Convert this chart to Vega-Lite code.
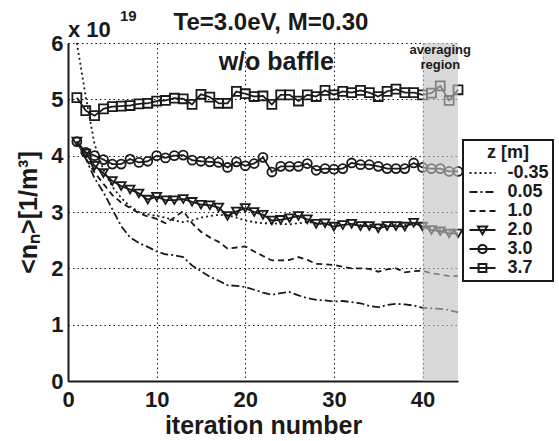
{
  "$schema": "https://vega.github.io/schema/vega-lite/v6.json",
  "width": 390,
  "height": 338,
  "autosize": "none",
  "padding": {"left": 68, "top": 43, "right": 101, "bottom": 60},
  "background": "white",
  "config": {
    "font": "Liberation Sans",
    "view": {"stroke": null},
    "axis": {
      "labelFont": "Liberation Sans", "labelFontWeight": "bold", "labelFontSize": 22, "labelColor": "#1a1a1a", "labelFlush": false,
      "titleFont": "Liberation Sans", "titleFontWeight": "bold", "titleFontSize": 25, "titleColor": "#1a1a1a",
      "domainColor": "#1a1a1a", "domainWidth": 2, "tickSize": 0,
      "grid": true, "gridColor": "#1a1a1a", "gridDash": [1.5, 3], "gridWidth": 1, "gridOpacity": 1
    }
  },
  "data": {"values": [
    {"it":1,"z":"-0.35","n":6.0},{"it":2,"z":"-0.35","n":5.05},{"it":3,"z":"-0.35","n":4.2},{"it":4,"z":"-0.35","n":3.75},{"it":5,"z":"-0.35","n":3.45},{"it":6,"z":"-0.35","n":3.25},{"it":7,"z":"-0.35","n":3.1},{"it":8,"z":"-0.35","n":3.0},{"it":9,"z":"-0.35","n":2.96},{"it":10,"z":"-0.35","n":2.93},{"it":11,"z":"-0.35","n":2.9},{"it":12,"z":"-0.35","n":2.85},{"it":13,"z":"-0.35","n":2.82},{"it":14,"z":"-0.35","n":2.85},{"it":15,"z":"-0.35","n":2.9},{"it":16,"z":"-0.35","n":2.93},{"it":17,"z":"-0.35","n":2.95},{"it":18,"z":"-0.35","n":2.94},{"it":19,"z":"-0.35","n":2.9},{"it":20,"z":"-0.35","n":2.85},{"it":21,"z":"-0.35","n":2.82},{"it":22,"z":"-0.35","n":2.8},{"it":23,"z":"-0.35","n":2.8},{"it":24,"z":"-0.35","n":2.79},{"it":25,"z":"-0.35","n":2.78},{"it":26,"z":"-0.35","n":2.8},{"it":27,"z":"-0.35","n":2.82},{"it":28,"z":"-0.35","n":2.8},{"it":29,"z":"-0.35","n":2.78},{"it":30,"z":"-0.35","n":2.76},{"it":31,"z":"-0.35","n":2.77},{"it":32,"z":"-0.35","n":2.78},{"it":33,"z":"-0.35","n":2.77},{"it":34,"z":"-0.35","n":2.78},{"it":35,"z":"-0.35","n":2.76},{"it":36,"z":"-0.35","n":2.77},{"it":37,"z":"-0.35","n":2.78},{"it":38,"z":"-0.35","n":2.77},{"it":39,"z":"-0.35","n":2.78},{"it":40,"z":"-0.35","n":2.76},{"it":41,"z":"-0.35","n":2.72},{"it":42,"z":"-0.35","n":2.7},{"it":43,"z":"-0.35","n":2.67},{"it":44,"z":"-0.35","n":2.65},
    {"it":1,"z":"0.05","n":4.25},{"it":2,"z":"0.05","n":3.95},{"it":3,"z":"0.05","n":3.6},{"it":4,"z":"0.05","n":3.35},{"it":5,"z":"0.05","n":3.05},{"it":6,"z":"0.05","n":2.75},{"it":7,"z":"0.05","n":2.55},{"it":8,"z":"0.05","n":2.45},{"it":9,"z":"0.05","n":2.38},{"it":10,"z":"0.05","n":2.3},{"it":11,"z":"0.05","n":2.25},{"it":12,"z":"0.05","n":2.23},{"it":13,"z":"0.05","n":2.2},{"it":14,"z":"0.05","n":2.05},{"it":15,"z":"0.05","n":1.95},{"it":16,"z":"0.05","n":1.85},{"it":17,"z":"0.05","n":1.78},{"it":18,"z":"0.05","n":1.7},{"it":19,"z":"0.05","n":1.69},{"it":20,"z":"0.05","n":1.67},{"it":21,"z":"0.05","n":1.62},{"it":22,"z":"0.05","n":1.57},{"it":23,"z":"0.05","n":1.53},{"it":24,"z":"0.05","n":1.56},{"it":25,"z":"0.05","n":1.58},{"it":26,"z":"0.05","n":1.52},{"it":27,"z":"0.05","n":1.47},{"it":28,"z":"0.05","n":1.44},{"it":29,"z":"0.05","n":1.43},{"it":30,"z":"0.05","n":1.41},{"it":31,"z":"0.05","n":1.42},{"it":32,"z":"0.05","n":1.4},{"it":33,"z":"0.05","n":1.38},{"it":34,"z":"0.05","n":1.33},{"it":35,"z":"0.05","n":1.31},{"it":36,"z":"0.05","n":1.35},{"it":37,"z":"0.05","n":1.37},{"it":38,"z":"0.05","n":1.36},{"it":39,"z":"0.05","n":1.34},{"it":40,"z":"0.05","n":1.3},{"it":41,"z":"0.05","n":1.29},{"it":42,"z":"0.05","n":1.28},{"it":43,"z":"0.05","n":1.26},{"it":44,"z":"0.05","n":1.22},
    {"it":1,"z":"1.0","n":4.25},{"it":2,"z":"1.0","n":3.95},{"it":3,"z":"1.0","n":3.7},{"it":4,"z":"1.0","n":3.5},{"it":5,"z":"1.0","n":3.3},{"it":6,"z":"1.0","n":3.17},{"it":7,"z":"1.0","n":3.07},{"it":8,"z":"1.0","n":2.98},{"it":9,"z":"1.0","n":2.92},{"it":10,"z":"1.0","n":2.88},{"it":11,"z":"1.0","n":2.8},{"it":12,"z":"1.0","n":2.9},{"it":13,"z":"1.0","n":3.02},{"it":14,"z":"1.0","n":2.8},{"it":15,"z":"1.0","n":2.65},{"it":16,"z":"1.0","n":2.55},{"it":17,"z":"1.0","n":2.47},{"it":18,"z":"1.0","n":2.35},{"it":19,"z":"1.0","n":2.37},{"it":20,"z":"1.0","n":2.39},{"it":21,"z":"1.0","n":2.3},{"it":22,"z":"1.0","n":2.22},{"it":23,"z":"1.0","n":2.14},{"it":24,"z":"1.0","n":2.14},{"it":25,"z":"1.0","n":2.15},{"it":26,"z":"1.0","n":2.2},{"it":27,"z":"1.0","n":2.15},{"it":28,"z":"1.0","n":2.08},{"it":29,"z":"1.0","n":2.07},{"it":30,"z":"1.0","n":2.06},{"it":31,"z":"1.0","n":2.03},{"it":32,"z":"1.0","n":2.0},{"it":33,"z":"1.0","n":2.0},{"it":34,"z":"1.0","n":1.99},{"it":35,"z":"1.0","n":1.94},{"it":36,"z":"1.0","n":1.98},{"it":37,"z":"1.0","n":2.0},{"it":38,"z":"1.0","n":1.93},{"it":39,"z":"1.0","n":1.95},{"it":40,"z":"1.0","n":1.96},{"it":41,"z":"1.0","n":1.91},{"it":42,"z":"1.0","n":1.89},{"it":43,"z":"1.0","n":1.86},{"it":44,"z":"1.0","n":1.86},
    {"it":1,"z":"2.0","n":4.25},{"it":2,"z":"2.0","n":4.04},{"it":3,"z":"2.0","n":3.82},{"it":4,"z":"2.0","n":3.69},{"it":5,"z":"2.0","n":3.55},{"it":6,"z":"2.0","n":3.46},{"it":7,"z":"2.0","n":3.4},{"it":8,"z":"2.0","n":3.33},{"it":9,"z":"2.0","n":3.22},{"it":10,"z":"2.0","n":3.27},{"it":11,"z":"2.0","n":3.21},{"it":12,"z":"2.0","n":3.21},{"it":13,"z":"2.0","n":3.23},{"it":14,"z":"2.0","n":3.18},{"it":15,"z":"2.0","n":3.13},{"it":16,"z":"2.0","n":3.12},{"it":17,"z":"2.0","n":3.08},{"it":18,"z":"2.0","n":2.93},{"it":19,"z":"2.0","n":3.01},{"it":20,"z":"2.0","n":3.07},{"it":21,"z":"2.0","n":3.0},{"it":22,"z":"2.0","n":2.95},{"it":23,"z":"2.0","n":2.85},{"it":24,"z":"2.0","n":2.86},{"it":25,"z":"2.0","n":2.89},{"it":26,"z":"2.0","n":2.93},{"it":27,"z":"2.0","n":2.87},{"it":28,"z":"2.0","n":2.79},{"it":29,"z":"2.0","n":2.8},{"it":30,"z":"2.0","n":2.74},{"it":31,"z":"2.0","n":2.77},{"it":32,"z":"2.0","n":2.79},{"it":33,"z":"2.0","n":2.75},{"it":34,"z":"2.0","n":2.75},{"it":35,"z":"2.0","n":2.71},{"it":36,"z":"2.0","n":2.75},{"it":37,"z":"2.0","n":2.75},{"it":38,"z":"2.0","n":2.74},{"it":39,"z":"2.0","n":2.81},{"it":40,"z":"2.0","n":2.74},{"it":41,"z":"2.0","n":2.68},{"it":42,"z":"2.0","n":2.66},{"it":43,"z":"2.0","n":2.62},{"it":44,"z":"2.0","n":2.62},
    {"it":1,"z":"3.0","n":4.25},{"it":2,"z":"3.0","n":4.06},{"it":3,"z":"3.0","n":4.0},{"it":4,"z":"3.0","n":3.93},{"it":5,"z":"3.0","n":3.85},{"it":6,"z":"3.0","n":3.85},{"it":7,"z":"3.0","n":3.94},{"it":8,"z":"3.0","n":3.88},{"it":9,"z":"3.0","n":3.9},{"it":10,"z":"3.0","n":4.0},{"it":11,"z":"3.0","n":3.96},{"it":12,"z":"3.0","n":4.0},{"it":13,"z":"3.0","n":4.01},{"it":14,"z":"3.0","n":3.92},{"it":15,"z":"3.0","n":3.9},{"it":16,"z":"3.0","n":3.89},{"it":17,"z":"3.0","n":3.88},{"it":18,"z":"3.0","n":3.79},{"it":19,"z":"3.0","n":3.89},{"it":20,"z":"3.0","n":3.82},{"it":21,"z":"3.0","n":3.86},{"it":22,"z":"3.0","n":3.97},{"it":23,"z":"3.0","n":3.71},{"it":24,"z":"3.0","n":3.81},{"it":25,"z":"3.0","n":3.81},{"it":26,"z":"3.0","n":3.81},{"it":27,"z":"3.0","n":3.86},{"it":28,"z":"3.0","n":3.74},{"it":29,"z":"3.0","n":3.77},{"it":30,"z":"3.0","n":3.76},{"it":31,"z":"3.0","n":3.77},{"it":32,"z":"3.0","n":3.87},{"it":33,"z":"3.0","n":3.84},{"it":34,"z":"3.0","n":3.84},{"it":35,"z":"3.0","n":3.81},{"it":36,"z":"3.0","n":3.77},{"it":37,"z":"3.0","n":3.77},{"it":38,"z":"3.0","n":3.77},{"it":39,"z":"3.0","n":3.87},{"it":40,"z":"3.0","n":3.79},{"it":41,"z":"3.0","n":3.77},{"it":42,"z":"3.0","n":3.77},{"it":43,"z":"3.0","n":3.72},{"it":44,"z":"3.0","n":3.72},
    {"it":1,"z":"3.7","n":5.03},{"it":2,"z":"3.7","n":4.8},{"it":3,"z":"3.7","n":4.71},{"it":4,"z":"3.7","n":4.83},{"it":5,"z":"3.7","n":4.87},{"it":6,"z":"3.7","n":4.88},{"it":7,"z":"3.7","n":4.89},{"it":8,"z":"3.7","n":4.92},{"it":9,"z":"3.7","n":4.93},{"it":10,"z":"3.7","n":4.97},{"it":11,"z":"3.7","n":4.98},{"it":12,"z":"3.7","n":5.02},{"it":13,"z":"3.7","n":5.01},{"it":14,"z":"3.7","n":4.91},{"it":15,"z":"3.7","n":5.09},{"it":16,"z":"3.7","n":5.04},{"it":17,"z":"3.7","n":4.93},{"it":18,"z":"3.7","n":4.93},{"it":19,"z":"3.7","n":5.14},{"it":20,"z":"3.7","n":5.1},{"it":21,"z":"3.7","n":5.05},{"it":22,"z":"3.7","n":5.06},{"it":23,"z":"3.7","n":4.91},{"it":24,"z":"3.7","n":5.08},{"it":25,"z":"3.7","n":5.08},{"it":26,"z":"3.7","n":4.97},{"it":27,"z":"3.7","n":5.08},{"it":28,"z":"3.7","n":5.05},{"it":29,"z":"3.7","n":5.16},{"it":30,"z":"3.7","n":5.08},{"it":31,"z":"3.7","n":5.14},{"it":32,"z":"3.7","n":5.12},{"it":33,"z":"3.7","n":5.16},{"it":34,"z":"3.7","n":5.12},{"it":35,"z":"3.7","n":5.05},{"it":36,"z":"3.7","n":5.14},{"it":37,"z":"3.7","n":5.18},{"it":38,"z":"3.7","n":5.12},{"it":39,"z":"3.7","n":5.12},{"it":40,"z":"3.7","n":5.08},{"it":41,"z":"3.7","n":5.11},{"it":42,"z":"3.7","n":5.24},{"it":43,"z":"3.7","n":4.98},{"it":44,"z":"3.7","n":5.17}
  ]},
  "layer": [
    {
      "mark": {"type": "line", "strokeWidth": 1.8, "color": "#1a1a1a"},
      "encoding": {
        "x": {"field": "it", "type": "quantitative", "scale": {"domain": [0, 44], "nice": false}, "axis": {"values": [0, 10, 20, 30, 40], "format": "d", "title": "iteration number", "labelPadding": 8, "titlePadding": 3}},
        "y": {"field": "n", "type": "quantitative", "scale": {"domain": [0, 6], "nice": false}, "axis": {"values": [0, 1, 2, 3, 4, 5, 6], "format": "d", "title": "<nₙ>[1/m³]", "labelPadding": 5, "titlePadding": 9}},
        "strokeDash": {
          "field": "z", "type": "nominal",
          "scale": {"domain": ["-0.35", "0.05", "1.0", "2.0", "3.0", "3.7"], "range": [[2, 3], [8, 3, 2, 3], [6, 4], [1, 0], [1, 0], [1, 0]]},
          "legend": {
            "title": "z [m]", "orient": "none", "legendX": 395, "legendY": 97,
            "titleFontSize": 18, "titleFontWeight": "bold", "titleFont": "Liberation Sans", "titleColor": "#1a1a1a", "titleAlign": "center", "titleAnchor": "middle", "titleBaseline": "top", "titlePadding": 2,
            "labelFontSize": 18, "labelFontWeight": "bold", "labelFont": "Liberation Sans", "labelColor": "#1a1a1a",
            "symbolSize": 169, "symbolStrokeWidth": 2, "symbolStrokeColor": "#1a1a1a", "symbolOffset": 6.5, "labelOffset": 16,
            "rowPadding": 1, "padding": 4, "strokeColor": "#1a1a1a",
            "encode": {
              "symbols": {"update": {
                "shape": {"signal": "datum.value === '2.0' ? 'M-2,0H2M-0.7,-0.55H0.7L0,0.65Z' : datum.value === '3.0' ? 'M-2,0H2M0.65,0L0.563,0.325L0.325,0.563L0,0.65L-0.325,0.563L-0.563,0.325L-0.65,0L-0.563,-0.325L-0.325,-0.563L0,-0.65L0.325,-0.563L0.563,-0.325Z' : datum.value === '3.7' ? 'M-2,0H2M-0.6,-0.6H0.6V0.6H-0.6Z' : 'M-2,0H2'"},
                "fill": {"value": "transparent"}, "stroke": {"value": "#1a1a1a"}, "strokeWidth": {"value": 2}
              }},
              "legend": {"update": {"strokeWidth": {"value": 2}}}
            }
          }
        }
      }
    },
    {
      "transform": [{"filter": {"field": "z", "oneOf": ["2.0", "3.0", "3.7"]}}],
      "mark": {"type": "point", "filled": false, "size": 80, "strokeWidth": 1.8, "color": "#1a1a1a", "opacity": 1},
      "encoding": {
        "x": {"field": "it", "type": "quantitative"},
        "y": {"field": "n", "type": "quantitative"},
        "shape": {"field": "z", "type": "nominal", "scale": {"domain": ["2.0", "3.0", "3.7"], "range": ["triangle-down", "circle", "square"]}, "legend": null}
      }
    },
    {
      "data": {"values": [{}]},
      "mark": {"type": "rect", "color": "#c2c2c2", "opacity": 0.62},
      "encoding": {"x": {"datum": 40}, "x2": {"datum": 44}, "y": {"datum": 0}, "y2": {"datum": 6}}
    },
    {
      "data": {"values": [{}]},
      "mark": {"type": "text", "text": "w/o baffle", "fontSize": 25, "fontWeight": "bold", "font": "Liberation Sans", "color": "#1a1a1a", "align": "center", "baseline": "middle"},
      "encoding": {"x": {"datum": 23.5}, "y": {"datum": 5.67}}
    },
    {
      "data": {"values": [{}]},
      "mark": {"type": "text", "text": ["averaging", "region"], "fontSize": 13, "fontWeight": "bold", "font": "Liberation Sans", "color": "#1a1a1a", "align": "center", "baseline": "top", "lineHeight": 15, "dy": 1},
      "encoding": {"x": {"datum": 42}, "y": {"datum": 6}}
    },
    {
      "data": {"values": [{}]},
      "mark": {"type": "text", "text": "Te=3.0eV, M=0.30", "fontSize": 24, "fontWeight": "bold", "font": "Liberation Sans", "color": "#1a1a1a", "align": "center", "baseline": "alphabetic", "dy": -13},
      "encoding": {"x": {"datum": 22.9}, "y": {"datum": 6}}
    },
    {
      "data": {"values": [{}]},
      "mark": {"type": "text", "text": "x 10", "fontSize": 22, "fontWeight": "bold", "font": "Liberation Sans", "color": "#1a1a1a", "align": "left", "baseline": "alphabetic", "dy": -6},
      "encoding": {"x": {"datum": 0}, "y": {"datum": 6}}
    },
    {
      "data": {"values": [{}]},
      "mark": {"type": "text", "text": "19", "fontSize": 15, "fontWeight": "bold", "font": "Liberation Sans", "color": "#1a1a1a", "align": "left", "baseline": "alphabetic", "dy": -22, "dx": 52},
      "encoding": {"x": {"datum": 0}, "y": {"datum": 6}}
    }
  ]
}
